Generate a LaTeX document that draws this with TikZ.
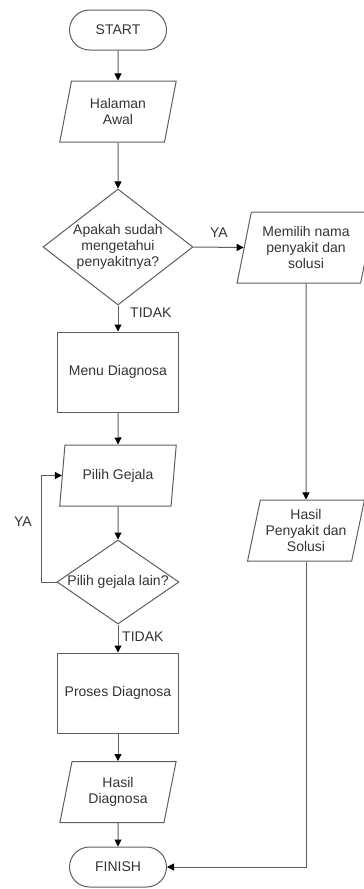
\documentclass[tikz,border=0pt]{standalone}
\usepackage{fontspec}
\setmainfont{Liberation Sans}
\usetikzlibrary{shapes.geometric,arrows.meta}
\definecolor{linegray}{HTML}{5E5E5E}
\definecolor{textgray}{HTML}{333333}
\tikzset{
	box/.style={draw=linegray, line width=1pt, text=textgray, align=center, inner sep=0pt},
	terminal/.style={box, rounded corners=20pt, minimum width=97pt, minimum height=40pt},
	process/.style={box, minimum width=121pt, minimum height=80pt},
	io/.style={box, trapezium, trapezium left angle=75, trapezium right angle=105,
		trapezium stretches=true, minimum width=117pt, minimum height=61pt},
	decision/.style={box, diamond, aspect=1.3},
	arr/.style={draw=linegray, line width=1pt, -{Triangle[width=7pt,length=7pt,black]}},
	lbl/.style={text=textgray, inner sep=0pt}
}

\begin{document}
\begin{tikzpicture}[x=1pt, y=-1pt, font=\fontsize{14}{16}\selectfont]
	\useasboundingbox (0,0) rectangle (364,889);
	% left column
	\node[terminal] (start) at (118,30) {START};
	\node[io] (awal) at (118,111.5) {Halaman\\Awal};
	\node[decision, minimum width=150pt, minimum height=116pt] (dx1) at (118,247) {Apakah sudah\\mengetahui\\penyakitnya?};
	\node[process] (menu) at (118,372) {Menu Diagnosa};
	\node[io] (gejala) at (118,475.5) {Pilih Gejala};
	\node[decision, minimum width=122pt, minimum height=84pt] (dx2) at (118,582) {\makebox[0pt]{Pilih gejala lain?}};
	\node[process] (proses) at (118,693) {Proses Diagnosa};
	\node[io] (hasil) at (118,792) {Hasil\\Diagnosa};
	\node[terminal] (finish) at (118,867) {FINISH};
	% right column
	\node[io, minimum width=138pt, minimum height=71pt] (pilihnama) at (306,247.5) {Memilih nama\\penyakit dan\\solusi};
	\node[io] (hasilpenyakit) at (306,530.5) {Hasil\\Penyakit dan\\Solusi};
	% connectors
	\foreach \a/\b in {start/awal, awal/dx1, dx1/menu, menu/gejala, gejala/dx2, dx2/proses, proses/hasil, hasil/finish, pilihnama/hasilpenyakit}{
		\draw[arr] (\a) -- (\b);}
	\draw[arr] (dx1.east) -- (pilihnama.west);
	\draw[arr] (dx2.west) -- ++(-15,0) |- (gejala.west);
	\draw[arr] (hasilpenyakit.south) |- (finish.east);
	% labels
	\node[lbl] (ya1) at (219,233) {YA};
	\node[lbl, anchor=west] (tidak1) at (130,313) {TIDAK};
	\node[lbl] (ya2) at (23,522) {YA};
	\node[lbl, anchor=west] (tidak2) at (122,637) {TIDAK};
\end{tikzpicture}
\end{document}
